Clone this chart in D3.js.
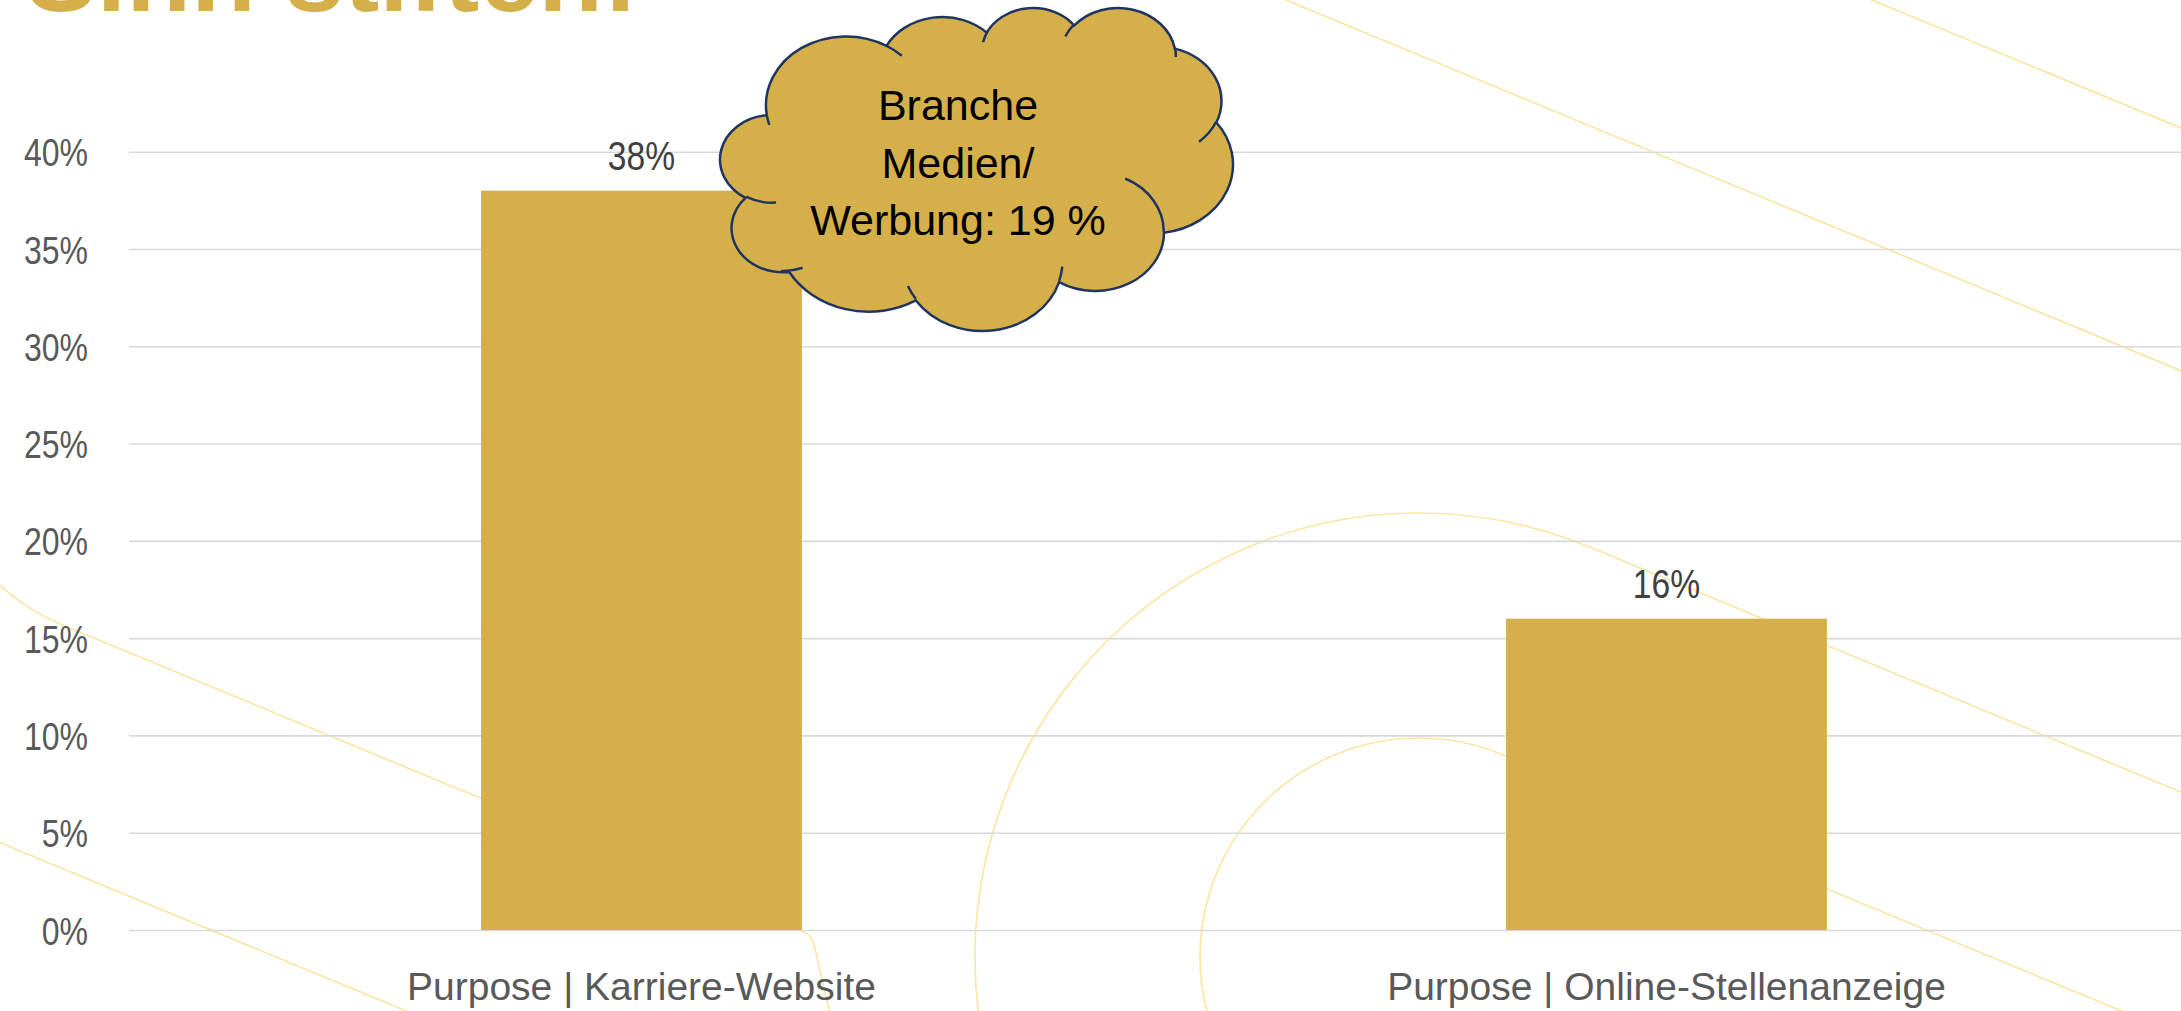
<!DOCTYPE html>
<html>
<head>
<meta charset="utf-8">
<script src="https://cdn.jsdelivr.net/npm/d3@7"></script>
<style>
  html, body { margin: 0; padding: 0; background: #fff; overflow: hidden; }
  svg { display: block; }
</style>
</head>
<body>
<svg id="chart" width="2181" height="1011"></svg>
<script>
// chart data
const categories = ["Purpose | Karriere-Website", "Purpose | Online-Stellenanzeige"];
const values = [0.38, 0.16];
const yTicks = [0, 0.05, 0.10, 0.15, 0.20, 0.25, 0.30, 0.35, 0.40];
const calloutLines = ["Branche", "Medien/", "Werbung: 19 %"];
const titleText = "Sinn stiften!";

const W = 2181, H = 1011;
const gold = "#D5B04A";
const deco = "#FBE6A6";

const svg = d3.select("#chart");

const x = d3.scaleBand()
  .domain(categories)
  .range([129, 2179])
  .paddingInner(0.687)
  .paddingOuter(0.3435);

const y = d3.scaleLinear()
  .domain([0, 0.4])
  .range([930, 151.7]);

// squeeze text a bit, the original uses a narrow face
const narrow = (sel, k) => {
  sel.each(function () {
    const L = this.getComputedTextLength();
    d3.select(this).attr("textLength", L * k).attr("lengthAdjust", "spacingAndGlyphs");
  });
};

// ---- background decoration: thin circles with tangent lines at 22.5deg
const decoG = svg.append("g")
  .attr("fill", "none")
  .attr("stroke", deco)
  .attr("stroke-width", 1.7);

const u = [Math.cos(Math.PI / 8), Math.sin(Math.PI / 8)];
const rad = (a) => a * Math.PI / 180;

// circle arc + tangent line
const loopPath = (cx, cy, r, tAng, endAng, sweep, tail) => {
  const T = [cx + r * Math.cos(rad(tAng)), cy + r * Math.sin(rad(tAng))];
  const E = [cx + r * Math.cos(rad(endAng)), cy + r * Math.sin(rad(endAng))];
  const L = [T[0] + tail * u[0], T[1] + tail * u[1]];
  const span = Math.abs(endAng - tAng);
  return "M" + L[0] + "," + L[1] + "L" + T[0] + "," + T[1] +
    "A" + r + "," + r + " 0 " + (span > 180 ? 1 : 0) + " " + sweep + " " + E[0] + "," + E[1];
};

// right pair, arcs run over the top and down the left side
decoG.append("path").attr("d", loopPath(1419, 957, 444, -67.5, -260, 0, 1500));
decoG.append("path").attr("d", loopPath(1419, 957, 219, -67.5, -260, 0, 1500));

// left pair, arcs run out of the page on the left
const lT = [147 + 219 * Math.cos(rad(112.5)), 423 + 219 * Math.sin(rad(112.5))];
const lE = [147 + 219 * Math.cos(rad(200)), 423 + 219 * Math.sin(rad(200))];
const tC = (803 - lT[0]) / u[0];
const cEnd = [lT[0] + tC * u[0], lT[1] + tC * u[1]];
decoG.append("path").attr("d",
  "M" + lE[0] + "," + lE[1] + "A219,219 0 0 0 " + lT[0] + "," + lT[1] +
  "L" + cEnd[0] + "," + cEnd[1] +
  "Q" + (cEnd[0] + 8) + "," + (cEnd[1] + 3) + " " + (cEnd[0] + 11) + "," + (cEnd[1] + 13) +
  "L" + (cEnd[0] + 33) + "," + (cEnd[1] + 108));
decoG.append("path").attr("d", loopPath(147, 423, 444, 112.5, 200, 1, 1200));

// top right straight lines
[1286, 1872].forEach((x0) => {
  decoG.append("line")
    .attr("x1", x0 - 300 * u[0]).attr("y1", -300 * u[1])
    .attr("x2", x0 + 1400 * u[0]).attr("y2", 1400 * u[1]);
});

// ---- gridlines + y axis
const yAxis = svg.append("g")
  .attr("transform", "translate(129,0)")
  .call(d3.axisLeft(y)
    .tickValues(yTicks)
    .tickSize(-(W - 129))
    .tickPadding(41)
    .tickFormat(d3.format(".0%")));

yAxis.select(".domain").remove();
yAxis.selectAll(".tick line")
  .attr("stroke", "#D9D9D9")
  .attr("stroke-width", 1.6);
yAxis.selectAll(".tick text")
  .attr("fill", "#595959")
  .attr("font-family", "'Liberation Sans', Arial, sans-serif")
  .attr("font-size", 39)
  .attr("dy", "0.36em")
  .call(narrow, 0.82);

// ---- bars
svg.append("g")
  .selectAll("rect")
  .data(values)
  .enter().append("rect")
  .attr("x", (d, i) => x(categories[i]))
  .attr("width", x.bandwidth())
  .attr("y", (d) => y(d))
  .attr("height", (d) => y(0) - y(d))
  .attr("fill", gold);

// value labels
svg.append("g")
  .selectAll("text")
  .data(values)
  .enter().append("text")
  .attr("x", (d, i) => x(categories[i]) + x.bandwidth() / 2)
  .attr("y", (d) => y(d) - 21)
  .attr("text-anchor", "middle")
  .attr("fill", "#404040")
  .attr("font-family", "'Liberation Sans', Arial, sans-serif")
  .attr("font-size", 40)
  .text((d) => d3.format(".0%")(d))
  .call(narrow, 0.84);

// ---- category axis
const xAxis = svg.append("g")
  .attr("transform", "translate(0," + y(0) + ")")
  .call(d3.axisBottom(x).tickSize(0).tickPadding(42));
xAxis.select(".domain").remove();
xAxis.selectAll(".tick text")
  .attr("fill", "#595959")
  .attr("font-family", "'Liberation Sans', Arial, sans-serif")
  .attr("font-size", 39);

// ---- cloud callout (office "cloud" preset geometry, 43200 space)
const cloudStart = [3900, 14370];
const cloudArcs = [
  [6753, 9190, -11429249, 7426832], [5333, 7267, -8646143, 5396714],
  [4365, 5945, -8748475, 5983381], [4857, 6595, -7859164, 7034504],
  [5333, 7273, -4722533, 6541615], [6775, 9220, -2776035, 7816140],
  [5785, 7867, 37501, 6842000], [6752, 9215, 1347096, 6910353],
  [7720, 10543, 3974558, 4542661], [4360, 5918, -16496525, 8804134],
  [4345, 5945, -14809710, 9151131]
];
const cloudHooks = [
  [4693, 26177, 4345, 5945, 5204520, 1585770], [6928, 34899, 4360, 5918, 4416628, 1099040],
  [16478, 39090, 6752, 9215, 8257449, 844866], [28827, 34751, 6752, 9215, 387196, 959901],
  [34129, 22954, 5785, 7867, -4217541, 4255042], [41798, 15354, 5333, 7273, 1819082, 1665090],
  [38324, 5426, 4857, 6595, -824660, 891534], [29078, 3952, 4857, 6595, -8950887, 1091722],
  [22141, 4720, 4365, 5945, -9809656, 1061181], [14000, 5192, 6753, 9190, -4002417, 739161],
  [4127, 15789, 6753, 9190, 9459261, 711490]
];

const ellPt = (wR, hR, ang) => {
  const a = rad(ang), c = Math.cos(a), s = Math.sin(a);
  const r = wR * hR / Math.sqrt((hR * c) ** 2 + (wR * s) ** 2);
  return [r * c, r * s];
};

const arcSeg = (cur, wR, hR, st, sw, tf) => {
  st = st / 60000; sw = sw / 60000;
  const p0 = ellPt(wR, hR, st);
  const p1 = ellPt(wR, hR, st + sw);
  const end = [cur[0] - p0[0] + p1[0], cur[1] - p0[1] + p1[1]];
  const e = tf(end);
  return {
    d: "A" + (wR * tf.sx) + "," + (hR * tf.sy) + " 0 " + (Math.abs(sw) > 180 ? 1 : 0) + " " +
      (sw > 0 ? 1 : 0) + " " + e[0] + "," + e[1],
    end: end
  };
};

const buildCloud = (sx, sy, ox, oy) => {
  const tf = (p) => [ox + p[0] * sx, oy + p[1] * sy];
  tf.sx = sx; tf.sy = sy;
  let cur = cloudStart;
  let p = tf(cur);
  let body = "M" + p[0] + "," + p[1];
  cloudArcs.forEach((a) => {
    const s = arcSeg(cur, a[0], a[1], a[2], a[3], tf);
    body += s.d; cur = s.end;
  });
  body += "Z";
  let hooks = "";
  cloudHooks.forEach((h) => {
    const q = tf([h[0], h[1]]);
    hooks += "M" + q[0] + "," + q[1] + arcSeg([h[0], h[1]], h[2], h[3], h[4], h[5], tf).d;
  });
  return { body, hooks };
};

const cloudG = svg.append("g");
const cloudBody = cloudG.append("path")
  .attr("fill", gold)
  .attr("stroke", "#1F3560")
  .attr("stroke-width", 2.5);
const cloudHook = cloudG.append("path")
  .attr("fill", "none")
  .attr("stroke", "#1F3560")
  .attr("stroke-width", 2.5);

// fit the cloud into its box
cloudBody.attr("d", buildCloud(1, 1, 0, 0).body);
const bb = cloudBody.node().getBBox();
const box = { x0: 720, y0: 8, x1: 1233, y1: 331 };
const csx = (box.x1 - box.x0) / bb.width;
const csy = (box.y1 - box.y0) / bb.height;
const cloud = buildCloud(csx, csy, box.x0 - bb.x * csx, box.y0 - bb.y * csy);
cloudBody.attr("d", cloud.body);
cloudHook.attr("d", cloud.hooks);

cloudG.append("g")
  .selectAll("text")
  .data(calloutLines)
  .enter().append("text")
  .attr("x", 958)
  .attr("y", (d, i) => 120 + i * 57.5)
  .attr("text-anchor", "middle")
  .attr("fill", "#000")
  .attr("font-family", "'Liberation Sans', Arial, sans-serif")
  .attr("font-size", 43)
  .text((d) => d);

// ---- title, mostly above the visible area (as in the slide)
svg.append("text")
  .attr("x", 26)
  .attr("y", 11)
  .attr("fill", gold)
  .attr("font-family", "'Liberation Sans', Arial, sans-serif")
  .attr("font-weight", "bold")
  .attr("font-size", 106)
  .text(titleText);
</script>
</body>
</html>
